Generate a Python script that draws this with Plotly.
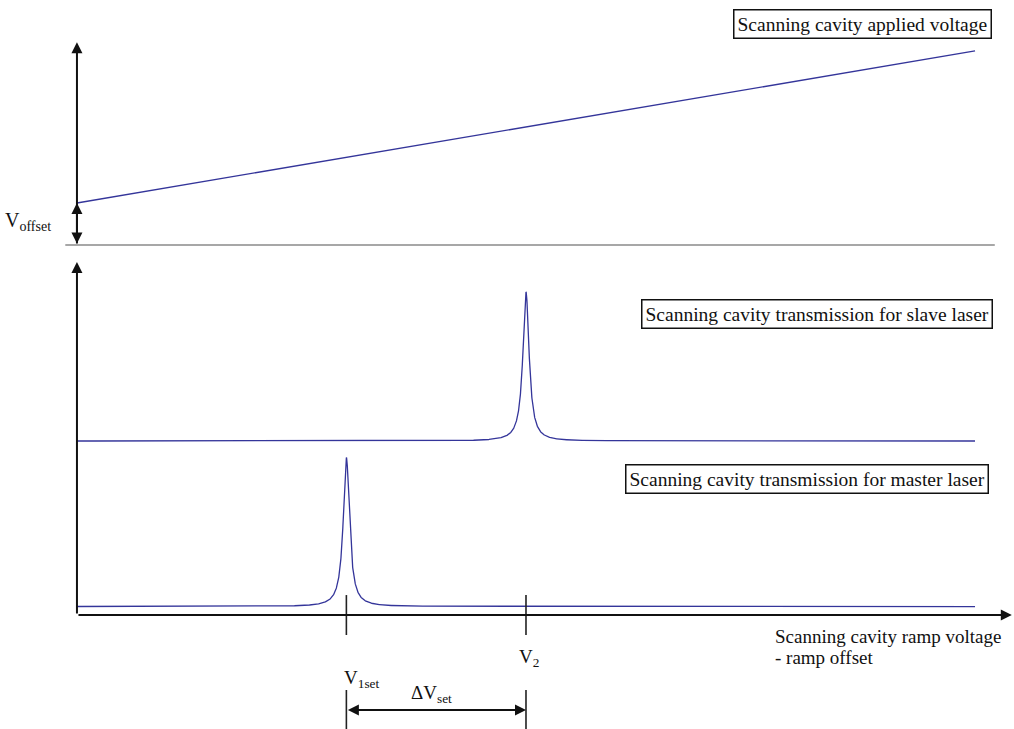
import numpy as np
import plotly.graph_objects as go

# Ramp applied to the scanning cavity (arbitrary voltage units)
ramp_x = [0.0, 10.0]
ramp_v = [1.0, 4.62]
v_offset = 1.0

# Transmission peaks seen while scanning (ramp voltage minus offset)
laser_names = ["master", "slave"]
peak_centers = [3.0, 5.0]
peak_heights = [1.0, 1.0]
peak_baselines = [0.057, 1.168]
peak_halfwidth = 0.042

# Reference marks on the ramp axis
v1set = 3.0
v2 = 5.0

LINE_BLUE = "#34359a"
FONT = "Liberation Serif"

scan = np.linspace(ramp_x[0], ramp_x[1], 8001)


def lorentz(x, centre, height, base, hw):
    return base + height * hw**2 / ((x - centre) ** 2 + hw**2)


fig = go.Figure()

# applied voltage ramp (upper panel)
fig.add_trace(go.Scatter(x=ramp_x, y=ramp_v, mode="lines", yaxis="y2",
                         line=dict(color=LINE_BLUE, width=1.3), hoverinfo="skip"))

# transmission traces (lower panel)
for name, c, h, b in zip(laser_names, peak_centers, peak_heights, peak_baselines):
    fig.add_trace(go.Scatter(x=scan, y=lorentz(scan, c, h, b, peak_halfwidth),
                             mode="lines", name=name,
                             line=dict(color=LINE_BLUE, width=1.3), hoverinfo="skip"))

# panel separator (zero of the applied voltage)
fig.add_shape(type="line", xref="x", yref="y2", x0=-0.13, x1=10.22, y0=0, y1=0,
              line=dict(color="#8a8a8a", width=1.3))

# tick marks at V1set and V2 on the ramp axis
for xv in (v1set, v2):
    fig.add_shape(type="line", xref="x", yref="y", x0=xv, x1=xv, y0=-0.134, y1=0.134,
                  line=dict(color="#222", width=1.6))
    fig.add_shape(type="line", xref="x", yref="y", x0=xv, x1=xv, y0=-0.503, y1=-0.8,
                  line=dict(color="#222", width=1.6))

arrow = dict(showarrow=True, text="", arrowhead=2, arrowsize=1.1, arrowwidth=2,
             arrowcolor="#111", standoff=0, startstandoff=0)

# vertical axis, upper panel
fig.add_annotation(x=0, y=4.83, ax=0, ay=0, xref="x", yref="y2", axref="x", ayref="y2", **arrow)
# V_offset double arrow
fig.add_annotation(x=0, y=v_offset, ax=0, ay=0, xref="x", yref="y2", axref="x", ayref="y2",
                   arrowside="end+start", **arrow)
# vertical axis, lower panel
fig.add_annotation(x=0, y=2.37, ax=0, ay=0, xref="x", yref="y", axref="x", ayref="y", **arrow)
# horizontal ramp axis
fig.add_annotation(x=10.41, y=0, ax=0, ay=0, xref="x", yref="y", axref="x", ayref="y", **arrow)
# delta V_set double arrow
fig.add_annotation(x=v2, y=-0.638, ax=v1set, ay=-0.638, xref="x", yref="y", axref="x", ayref="y",
                   arrowside="end+start", **arrow)


def txt(size):
    return dict(showarrow=False, font=dict(family=FONT, size=size, color="#111"))


box = dict(bordercolor="#111", borderwidth=1.5, borderpad=3, bgcolor="white")

fig.add_annotation(x=8.742, y=5.25, xref="x", yref="y2", text="Scanning cavity applied voltage",
                   **txt(19.5), **box)
fig.add_annotation(x=8.24, y=2.023, xref="x", yref="y",
                   text="Scanning cavity transmission for slave laser", **txt(19.5), **box)
fig.add_annotation(x=8.13, y=0.91, xref="x", yref="y",
                   text="Scanning cavity transmission for master laser", **txt(19.5), **box)

fig.add_annotation(x=-0.27, y=0.55, xref="x", yref="y2", xanchor="right",
                   text="V<sub>offset</sub>", **txt(20))
fig.add_annotation(x=v2 + 0.03, y=-0.29, xref="x", yref="y", text="V<sub>2</sub>", **txt(19))
fig.add_annotation(x=v1set + 0.17, y=-0.43, xref="x", yref="y", text="V<sub>1set</sub>", **txt(19))
fig.add_annotation(x=3.95, y=-0.53, xref="x", yref="y", text="ΔV<sub>set</sub>", **txt(19))
fig.add_annotation(x=7.75, y=-0.143, xref="x", yref="y", xanchor="left",
                   text="Scanning cavity ramp voltage", **txt(19))
fig.add_annotation(x=7.75, y=-0.283, xref="x", yref="y", xanchor="left",
                   text="- ramp offset", **txt(19))

fig.update_layout(
    width=1014, height=729,
    margin=dict(l=0, r=0, t=0, b=0),
    paper_bgcolor="white", plot_bgcolor="white",
    font=dict(family=FONT),
    showlegend=False,
    xaxis=dict(visible=False, range=[-0.857, 10.434], domain=[0, 1]),
    yaxis=dict(visible=False, range=[-0.765, 4.128], domain=[0, 1]),
    yaxis2=dict(visible=False, range=[-11.524, 5.833], overlaying="y"),
)

fig.write_html("out.html")
